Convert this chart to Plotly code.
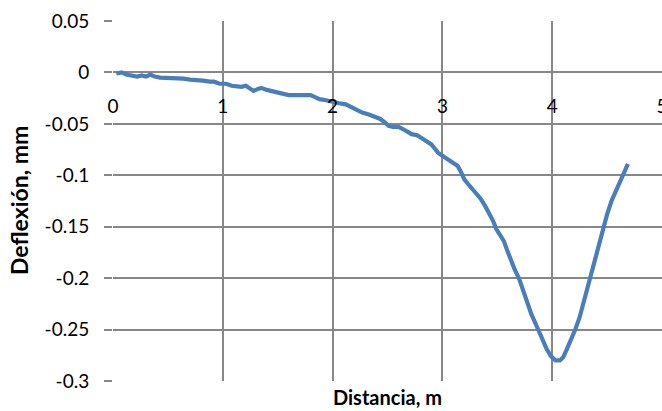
import plotly.graph_objects as go

# Deflection profile along the measured distance
distancia = [
    0.03, 0.08, 0.12, 0.16, 0.22, 0.26, 0.30, 0.34, 0.38, 0.43, 0.48, 0.52,
    0.58, 0.64, 0.70, 0.76, 0.82, 0.88, 0.92, 0.97, 1.03, 1.08, 1.13, 1.17,
    1.21, 1.25, 1.28, 1.32, 1.35, 1.40, 1.45, 1.50, 1.55, 1.60, 1.68, 1.75,
    1.80, 1.84, 1.88, 1.94, 2.00, 2.06, 2.12, 2.17, 2.22, 2.27, 2.33, 2.38,
    2.43, 2.47, 2.51, 2.55, 2.60, 2.64, 2.68, 2.72, 2.77, 2.81, 2.86, 2.90,
    2.93, 2.96, 3.00, 3.04, 3.09, 3.14, 3.17, 3.20, 3.23, 3.27, 3.31, 3.35,
    3.39, 3.43, 3.46, 3.49, 3.53, 3.56, 3.59, 3.62, 3.66, 3.70, 3.73, 3.77,
    3.81, 3.86, 3.90, 3.95, 3.99, 4.03, 4.07, 4.10, 4.13, 4.17, 4.21, 4.25,
    4.28, 4.31, 4.34, 4.37, 4.40, 4.43, 4.47, 4.50, 4.54, 4.58, 4.62, 4.65,
    4.68, 4.69,
]
deflexion = [
    -0.001, 0.000, -0.002, -0.003, -0.004, -0.003, -0.004, -0.002, -0.004,
    -0.005, -0.005, -0.006, -0.006, -0.006, -0.007, -0.007, -0.008, -0.009,
    -0.009, -0.011, -0.011, -0.013, -0.014, -0.014, -0.013, -0.016, -0.018,
    -0.016, -0.015, -0.017, -0.018, -0.019, -0.021, -0.022, -0.022, -0.022,
    -0.022, -0.024, -0.026, -0.027, -0.029, -0.030, -0.031, -0.034, -0.037,
    -0.039, -0.041, -0.043, -0.045, -0.048, -0.052, -0.053, -0.053, -0.055,
    -0.058, -0.060, -0.061, -0.064, -0.067, -0.070, -0.074, -0.078, -0.081,
    -0.084, -0.087, -0.091, -0.097, -0.104, -0.108, -0.113, -0.118, -0.123,
    -0.130, -0.137, -0.144, -0.152, -0.158, -0.164, -0.173, -0.182, -0.192,
    -0.201, -0.211, -0.224, -0.235, -0.247, -0.258, -0.269, -0.276, -0.280,
    -0.280, -0.277, -0.270, -0.261, -0.250, -0.238, -0.226, -0.215, -0.203,
    -0.191, -0.179, -0.165, -0.150, -0.138, -0.125, -0.115, -0.104, -0.097,
    -0.091, -0.089,
]

x_ticks = [0, 1, 2, 3, 4, 5]
y_ticks = [0.05, 0, -0.05, -0.1, -0.15, -0.2, -0.25, -0.3]
y_tick_text = ["0.05", "0", "-0.05", "-0.1", "-0.15", "-0.2", "-0.25", "-0.3"]

FONT = "Lato"
GRID = "#878787"
Y_MIN, Y_MAX = -0.3, 0.05

fig = go.Figure()
fig.add_trace(go.Scatter(
    x=distancia, y=deflexion, mode="lines",
    line=dict(color="#4A7EBB", width=4.2),
    showlegend=False,
))

# x labels sit just under the zero line, like an axis crossing at y = 0
zero_pos = (0 - Y_MIN) / (Y_MAX - Y_MIN)

fig.update_layout(
    width=662, height=411,
    margin=dict(l=113, r=0, t=21, b=30),
    paper_bgcolor="white", plot_bgcolor="white",
    font=dict(family=FONT, size=19, color="#000000"),
    xaxis=dict(
        range=[0, 5], tickvals=x_ticks, ticktext=[str(t) for t in x_ticks],
        anchor="free", position=zero_pos, automargin=False,
        showgrid=True, gridcolor=GRID, gridwidth=1.8,
        showline=False, zeroline=False, ticks="",
        ticklabelstandoff=21, ticklabeloverflow="allow",
    ),
    yaxis=dict(
        range=[Y_MIN, Y_MAX], tickvals=y_ticks, ticktext=y_tick_text,
        automargin=False,
        showgrid=True, gridcolor=GRID, gridwidth=1.8,
        zeroline=False, showline=False,
        ticks="outside", ticklen=8, tickcolor=GRID, tickwidth=1.8,
        ticklabelstandoff=11,
    ),
    annotations=[
        dict(text="<b>Distancia, m</b>", xref="paper", yref="paper",
             x=0.5, y=0, yanchor="top", yshift=-2, showarrow=False,
             font=dict(family=FONT, size=20)),
        dict(text="<b>Deflexión, mm</b>", xref="paper", yref="paper",
             x=0, y=0.5, xanchor="center", xshift=-94, textangle=-90,
             showarrow=False, font=dict(family=FONT, size=23)),
    ],
)

fig.write_html("out.html")
